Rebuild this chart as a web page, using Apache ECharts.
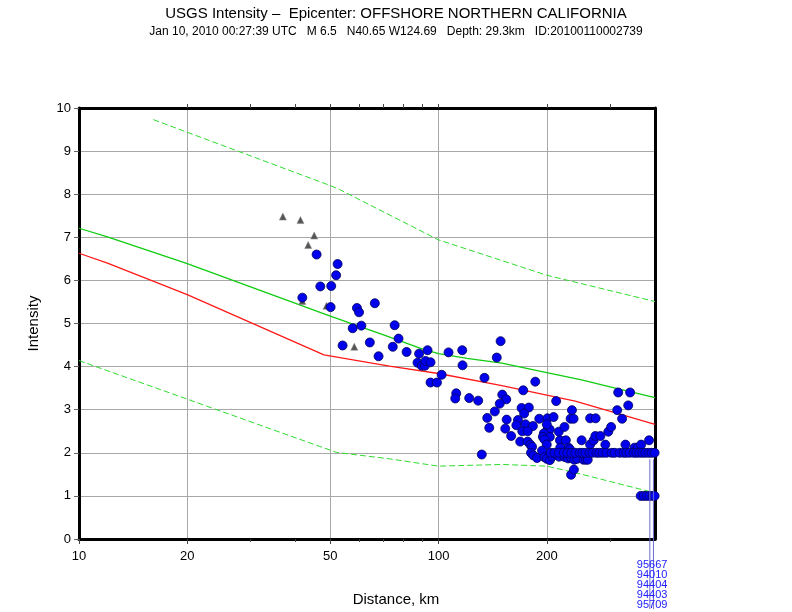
<!DOCTYPE html>
<html>
<head>
<meta charset="utf-8">
<script src="https://cdn.jsdelivr.net/npm/echarts@6/dist/echarts.min.js"></script>
<style>html,body{margin:0;padding:0;background:#fff}#c{width:792px;height:612px}</style>
</head>
<body>
<div id="c"></div>
<script>
// ---- tick labels (distance, km) ----
const majorTicks = [10, 20, 50, 100, 200];
const minorTicks = [30, 40, 60, 70, 80, 90, 300];
const topTicks = [20, 30, 40, 50, 60, 70, 80, 90, 100, 200, 300];

// ---- prediction curves ----
const medDist = [10, 12, 20, 50, 70, 90, 100, 120, 150, 200, 250, 300, 400];
const medMMI  = [7.21, 7.01, 6.39, 5.17, 4.74, 4.41, 4.30, 4.19, 4.08, 3.86, 3.69, 3.53, 3.28];
const redDist = [10, 12, 20, 48, 73, 100, 150, 200, 240, 400];
const redMMI  = [6.63, 6.40, 5.67, 4.27, 4.01, 3.84, 3.56, 3.34, 3.20, 2.66];
const upDist  = [16.1, 50, 53, 100, 200, 400];
const upMMI   = [9.73, 8.20, 8.11, 6.94, 6.12, 5.51];
const lowDist = [10, 52, 73, 100, 150, 200, 240, 400];
const lowMMI  = [4.14, 2.01, 1.86, 1.69, 1.73, 1.69, 1.54, 1.07];

// ---- triangles ----
const triDist = [36.9, 41.3, 45.1, 43.4, 41.8, 48.8, 58.3];
const triMMI  = [7.48, 7.40, 7.04, 6.82, 5.52, 5.41, 4.46];

// ---- station circles ----
const staDist = [45.8, 52.4, 51.9, 46.9, 50.3, 41.8, 50.1, 59.3, 60.1, 66.5,
  57.7, 61.0, 54.1, 64.4, 68.1, 75.5, 77.4, 74.6, 81.5, 88.3,
  93.2, 87.4, 89.8, 91.6, 92.0, 95.0, 102, 95.0, 99, 106.6,
  116.4, 116.6, 112, 111.3, 121.7, 128.9, 134.2, 131.9, 148.8, 145.2,
  150.4, 154.3, 148, 143.4, 136.6, 154.7, 138.4, 153.3, 159.2, 185.8,
  172, 170.2, 178.3, 173, 166.3, 164.6, 174.5, 183, 171, 177,
  168.7, 177, 180, 182, 180.8, 183.4, 187.9, 190.6, 200.8, 208.9,
  201, 203.9, 200, 196.3, 195, 204, 197, 200, 194, 197,
  200, 204, 207, 212, 216.5, 220.9, 224.6, 226.7, 229.3, 233.7,
  239.6, 238.5, 243, 233.7, 238, 212.4, 216, 224, 217.6, 226,
  218, 230, 232, 235, 233, 237.5, 250, 253, 257, 260,
  264, 273.5, 264, 270, 273, 282, 291, 296.6, 302, 316,
  341, 314, 337, 324, 331, 351, 358, 366, 385,
  205, 210, 216, 223, 228, 234, 240, 247, 251, 256,
  263, 268, 275, 280, 286, 293, 303, 309, 319, 327,
  333, 340, 349, 355, 362, 369, 376, 384, 391, 399,
  365, 372, 379, 386, 394, 399];
const staMMI = [6.60, 6.38, 6.12, 5.86, 5.87, 5.60, 5.38, 5.36, 5.26, 5.47,
  4.89, 4.95, 4.49, 4.56, 4.24, 4.96, 4.65, 4.46, 4.34, 4.30,
  4.38, 4.09, 4.02, 4.02, 4.13, 4.10, 3.81, 3.63, 3.63, 4.33,
  4.38, 4.03, 3.38, 3.26, 3.27, 3.21, 3.74, 1.96, 4.59, 4.21,
  3.35, 3.24, 3.14, 2.96, 2.81, 2.77, 2.58, 2.56, 2.39, 3.65,
  3.45, 3.04, 3.05, 2.91, 2.76, 2.64, 2.66, 2.62, 2.50, 2.50,
  2.26, 2.26, 2.19, 2.14, 2.00, 1.94, 1.88, 2.79, 2.80, 2.83,
  2.54, 2.54, 2.66, 2.45, 2.37, 2.37, 2.31, 2.19, 2.05, 1.90,
  1.86, 1.83, 1.91, 1.98, 1.91, 1.96, 1.90, 1.98, 1.87, 1.88,
  1.98, 1.84, 1.86, 1.49, 1.61, 3.20, 2.49, 2.60, 2.29, 2.29,
  2.12, 2.12, 2.08, 2.99, 2.79, 2.79, 2.29, 1.84, 1.84, 1.84,
  2.80, 2.80, 2.19, 2.29, 2.39, 2.39, 2.19, 2.49, 2.60, 3.40,
  3.40, 2.99, 3.10, 2.79, 2.19, 2.12, 2.12, 2.19, 2.29,
  2.00, 2.00, 2.00, 2.00, 2.00, 2.00, 2.00, 2.00, 2.00, 2.00,
  2.00, 2.00, 2.00, 2.00, 2.00, 2.00, 2.00, 2.00, 2.00, 2.00,
  2.00, 2.00, 2.00, 2.00, 2.00, 2.00, 2.00, 2.00, 2.00, 2.00,
  1.00, 1.00, 1.00, 1.00, 1.00, 1.00];

// ---- off-scale station labels ----
const offStations = ['95667', '94010', '94404', '94403', '95709'];
const offLineDist = [387, 396];
const offTopMMI = 1.85;

const FONT = 'Liberation Sans, Arial, Helvetica, sans-serif';
const L = Math.log10;
const pairs = (xs, ys) => xs.map((d, i) => [L(d), ys[i]]);
const xMin = L(10), xMax = L(400);

const chart = echarts.init(document.getElementById('c'), null, {renderer: 'canvas'});

const baseX = {type: 'value', min: xMin, max: xMax, gridIndex: 0};
const option = {
  animation: false,
  backgroundColor: '#fff',
  textStyle: {fontFamily: FONT},
  title: {
    text: 'USGS Intensity \u2013  Epicenter: OFFSHORE NORTHERN CALIFORNIA',
    subtext: 'Jan 10, 2010 00:27:39 UTC   M 6.5   N40.65 W124.69   Depth: 29.3km   ID:20100110002739',
    left: 'center', top: 1, itemGap: 5,
    textStyle: {fontFamily: FONT, fontSize: 15, fontWeight: 'normal', color: '#000'},
    subtextStyle: {fontFamily: FONT, fontSize: 12, color: '#000'}
  },
  grid: {left: 79, right: 137, top: 108, bottom: 72.5, show: false},
  xAxis: [
    Object.assign({}, baseX, {
      position: 'bottom',
      name: 'Distance, km', nameLocation: 'middle', nameGap: 53,
      nameTextStyle: {fontFamily: FONT, fontSize: 15, color: '#000', padding: [0, 0, 0, 58]},
      axisLine: {show: true, onZero: false, lineStyle: {color: '#000', width: 3}},
      axisTick: {show: true, customValues: majorTicks.map(L), length: 5, lineStyle: {color: '#444'}},
      axisLabel: {customValues: majorTicks.map(L), formatter: v => String(Math.round(Math.pow(10, v))),
        fontFamily: FONT, fontSize: 13, color: '#000', margin: 11},
      splitLine: {show: true, lineStyle: {color: '#a8a8a8', width: 1}}
    }),
    Object.assign({}, baseX, {
      position: 'bottom',
      axisLine: {show: false},
      axisTick: {show: true, customValues: minorTicks.map(L), length: 3, lineStyle: {color: '#444'}},
      axisLabel: {show: false},
      splitLine: {show: false}
    }),
    Object.assign({}, baseX, {
      position: 'top',
      axisLine: {show: true, onZero: false, lineStyle: {color: '#000', width: 3}},
      axisTick: {show: true, customValues: topTicks.map(L), length: 4, lineStyle: {color: '#444'}},
      axisLabel: {show: false},
      splitLine: {show: false}
    })
  ],
  yAxis: [
    {
      type: 'value', min: 0, max: 10, interval: 1, position: 'left',
      name: 'Intensity', nameLocation: 'middle', nameGap: 38,
      nameTextStyle: {fontFamily: FONT, fontSize: 15, color: '#000'},
      axisLine: {show: true, onZero: false, lineStyle: {color: '#000', width: 3}},
      axisTick: {show: true, length: 5, lineStyle: {color: '#666'}},
      axisLabel: {fontFamily: FONT, fontSize: 13, color: '#000', margin: 8},
      splitLine: {show: true, lineStyle: {color: '#a8a8a8', width: 1}}
    },
    {
      type: 'value', min: 0, max: 10, interval: 1, position: 'right',
      axisLine: {show: true, onZero: false, lineStyle: {color: '#000', width: 3}},
      axisTick: {show: false}, axisLabel: {show: false}, splitLine: {show: false}
    }
  ],
  series: [
    {type: 'line', name: 'upper', data: pairs(upDist, upMMI), symbol: 'none', silent: true,
      lineStyle: {color: '#2fdc2f', width: 1, type: [6, 3]}, z: 2},
    {type: 'line', name: 'lower', data: pairs(lowDist, lowMMI), symbol: 'none', silent: true,
      lineStyle: {color: '#2fdc2f', width: 1, type: [6, 3]}, z: 2},
    {type: 'line', name: 'median', data: pairs(medDist, medMMI), symbol: 'none', silent: true,
      lineStyle: {color: '#11cc11', width: 1.3}, z: 2},
    {type: 'line', name: 'red', data: pairs(redDist, redMMI), symbol: 'none', silent: true,
      lineStyle: {color: '#ff1a1a', width: 1.3}, z: 2},
    {type: 'scatter', name: 'tri', data: pairs(triDist, triMMI), symbol: 'triangle', symbolSize: 7,
      itemStyle: {color: '#555', borderColor: '#888', borderWidth: 0.5, opacity: 1}, z: 3},
    {type: 'scatter', name: 'sta', data: pairs(staDist, staMMI), symbol: 'circle', symbolSize: 9,
      itemStyle: {color: '#0000ee', borderColor: '#00005a', borderWidth: 0.8, opacity: 1}, z: 4}
  ]
};
chart.setOption(option);

// annotation for stations at the right edge, placed via the chart's own scales
const pBase = chart.convertToPixel({xAxisIndex: 0, yAxisIndex: 0}, [L(offLineDist[1]), 0]);
const gfx = [];
offLineDist.forEach(d => {
  const p = chart.convertToPixel({xAxisIndex: 0, yAxisIndex: 0}, [L(d), offTopMMI]);
  gfx.push({
    type: 'line', silent: true, z: 10,
    shape: {x1: p[0], y1: p[1], x2: p[0], y2: pBase[1] + 70},
    style: {stroke: '#6a6ad6', lineWidth: 1}
  });
});
offStations.forEach((s, i) => {
  gfx.push({
    type: 'text', silent: true, z: 11,
    x: pBase[0] + 14, y: pBase[1] + 25.5 + i * 10,
    style: {text: s, fill: '#2020ff', font: '11px ' + FONT, textAlign: 'right', textVerticalAlign: 'middle'}
  });
});
chart.setOption({graphic: gfx});
</script>
</body>
</html>
